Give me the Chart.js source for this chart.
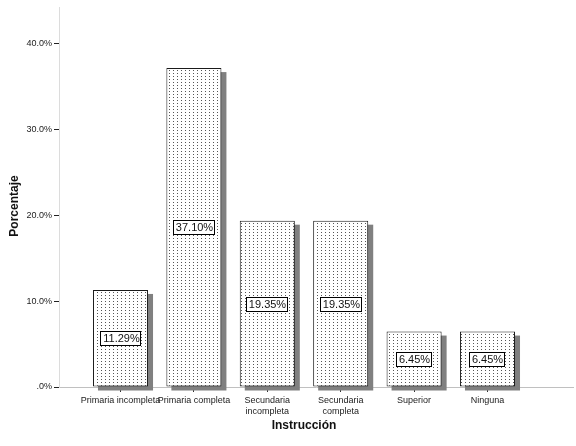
<!DOCTYPE html>
<html>
<head>
<meta charset="utf-8">
<script src="https://cdn.jsdelivr.net/npm/chart.js@4"></script>
<style>
html,body{margin:0;padding:0;background:#fff;}
#wrap{width:576px;height:446px;}
</style>
</head>
<body>
<div id="wrap"><canvas id="c" width="576" height="446"></canvas></div>
<script>
const categories = [['Primaria incompleta'], ['Primaria completa'], ['Secundaria', 'incompleta'], ['Secundaria', 'completa'], ['Superior'], ['Ninguna']];
const percentages = [11.29, 37.10, 19.35, 19.35, 6.45, 6.45];
const yTicks = [0, 10, 20, 30, 40];
const xTitle = 'Instrucción';
const yTitle = 'Porcentaje';

const FONT = '"Liberation Sans", Arial, sans-serif';

// dotted pattern fill
const pc = document.createElement('canvas');
pc.width = 4; pc.height = 3;
const pctx = pc.getContext('2d');
pctx.fillStyle = '#ffffff';
pctx.fillRect(0, 0, 4, 3);
pctx.fillStyle = '#555555';
pctx.fillRect(1, 1, 1, 1);
const ctx = document.getElementById('c').getContext('2d');
const pattern = ctx.createPattern(pc, 'repeat');

const points = percentages.map((v, i) => ({x: i, y: v}));

const decorPlugin = {
  id: 'decor',
  beforeDatasetsDraw(chart) {
    const c = chart.ctx;
    const meta = chart.getDatasetMeta(0);
    c.save();
    c.fillStyle = '#808080';
    meta.data.forEach(el => {
      const w = el.width;
      c.fillRect(el.x - w / 2 + 5, el.y + 4, w, el.base - el.y);
    });
    c.restore();
  },
  afterDatasetsDraw(chart) {
    const c = chart.ctx;
    const meta = chart.getDatasetMeta(0);
    c.save();
    c.font = '11px ' + FONT;
    c.textAlign = 'center';
    c.textBaseline = 'middle';
    meta.data.forEach((el, i) => {
      const txt = percentages[i].toFixed(2) + '%';
      const tw = c.measureText(txt).width;
      const cy = Math.round((el.y + el.base) / 2);
      const cx = Math.round(el.x);
      const bw = Math.round(tw + 5), bh = 15;
      const bx = cx - Math.round(bw / 2), by = cy - 7;
      c.fillStyle = '#fff';
      c.fillRect(bx, by, bw, bh);
      c.strokeStyle = '#000';
      c.lineWidth = 1;
      c.strokeRect(bx + 0.5, by + 0.5, bw - 1, bh - 1);
      c.fillStyle = '#111';
      c.fillText(txt, cx + 0.5, cy + 1);
    });
    c.restore();
  },
  afterDraw(chart) {
    const c = chart.ctx;
    const xs = chart.scales.x;
    c.save();
    c.font = 'bold 12px ' + FONT;
    c.fillStyle = '#111';
    c.textAlign = 'center';
    c.textBaseline = 'middle';
    const midX = (xs.getPixelForValue(0) + xs.getPixelForValue(categories.length - 1)) / 2;
    c.fillText(xTitle, midX, 426);
    c.translate(15, 206);
    c.rotate(-Math.PI / 2);
    c.fillText(yTitle, 0, 0);
    c.restore();
  }
};

new Chart(ctx, {
  type: 'bar',
  data: {
    datasets: [{
      data: points,
      backgroundColor: pattern,
      borderColor: '#1a1a1a',
      borderWidth: 1,
      borderSkipped: false,
      barPercentage: 0.75,
      categoryPercentage: 1.0
    }]
  },
  options: {
    responsive: false,
    animation: false,
    events: [],
    layout: {padding: {top: 5, right: 3, left: 0, bottom: 0}},
    plugins: {legend: {display: false}, tooltip: {enabled: false}},
    scales: {
      x: {
        type: 'linear',
        offset: false,
        min: -0.838,
        max: 6.165,
        afterBuildTicks(scale) { scale.ticks = categories.map((_, i) => ({value: i})); },
        afterFit(scale) { scale.height = 59; },
        grid: {offset: false, drawOnChartArea: false, drawTicks: true, tickLength: 5, tickColor: '#333', tickWidth: 1},
        border: {display: true, color: '#c0c0c0', width: 1},
        ticks: {
          autoSkip: false, maxRotation: 0, minRotation: 0, padding: 3,
          color: '#222', font: {family: FONT, size: 9, lineHeight: 1.25},
          callback: (v) => categories[v]
        },
        title: {display: false}
      },
      y: {
        min: 0,
        max: 44.16,
        afterBuildTicks(scale) { scale.ticks = yTicks.map(v => ({value: v})); },
        afterFit(scale) { scale.width = 59; },
        grid: {drawOnChartArea: false, drawTicks: true, tickLength: 5, tickColor: '#222', tickWidth: 1},
        border: {display: true, color: '#dcdcdc', width: 1},
        ticks: {
          padding: 2, color: '#222', font: {family: FONT, size: 9},
          callback: (v) => v === 0 ? '.0%' : v.toFixed(1) + '%'
        },
        title: {display: false}
      }
    }
  },
  plugins: [decorPlugin]
});
</script>
</body>
</html>
